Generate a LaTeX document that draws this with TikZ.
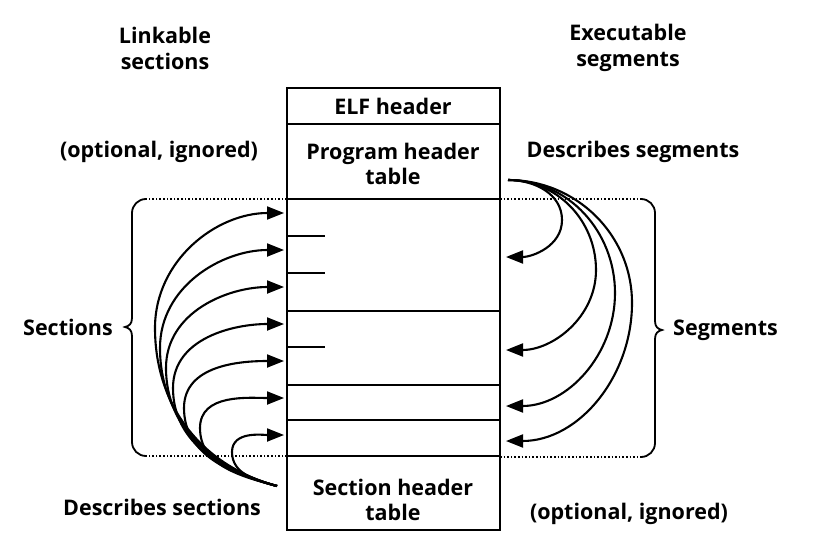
\documentclass[tikz,border=0pt]{standalone}
\usepackage{fontspec}
\setmainfont{Open Sans}
\usetikzlibrary{arrows.meta}
\begin{document}
\begin{tikzpicture}[x=1pt,y=1pt,
  lbl/.style={font=\bfseries\fontsize{21.5}{25}\selectfont,align=center,inner sep=0pt},
  boxline/.style={line width=1.9pt},
  arr/.style={line width=2.1pt,-{Triangle[length=17pt,width=13pt]}},
  dots/.style={line width=1.6pt,dotted},
  brace/.style={line width=1.8pt}]
\useasboundingbox (0,0) rectangle (818,558);
% file box
\draw[boxline] (287,28) rectangle (500,470);
\foreach \yy in {434,359,247,173,138,102} \draw[boxline] (287,\yy) -- (500,\yy);
\foreach \yy in {322,285,211} \draw[boxline] (287,\yy) -- (325,\yy);
% texts
\node[lbl] (elf) at (393,452) {ELF header};
\node[lbl] (pht) at (393,394) {Program header\\table};
\node[lbl] (sht) at (393,58) {Section header\\table};
\node[lbl] (link) at (165,510) {Linkable\\[1pt]sections};
\node[lbl] (exec) at (628,510) {Executable\\[1pt]segments};
\node[lbl] (optl) at (159,406) {(optional, ignored)};
\node[lbl] (dseg) at (633,406) {Describes segments};
\node[lbl,anchor=east] (secs) at (113,231) {Sections};
\node[lbl,anchor=west] (segs) at (673,228) {Segments};
\node[lbl] (dsec) at (162,51) {Describes sections};
\node[lbl] (optr) at (629,44) {(optional, ignored)};
% braces
\draw[dots] (287,359) -- (146,359);
\draw[dots] (287,102) -- (146,102);
\draw[brace] (146,359) arc[start angle=90,end angle=180,radius=14pt] -- (132,240)
  .. controls (132,234) and (129,232) .. (125,231)
  .. controls (129,230) and (132,228) .. (132,222)
  -- (132,116) arc[start angle=180,end angle=270,radius=14pt];
\draw[dots] (500,359) -- (641,359);
\draw[dots] (500,101) -- (641,101);
\draw[brace] (641,359) arc[start angle=90,end angle=0,radius=14pt] -- (655,237)
  .. controls (655,231) and (658,229) .. (662,228)
  .. controls (658,227) and (655,225) .. (655,219)
  -- (655,115) arc[start angle=0,end angle=-90,radius=14pt];
% left arrows
\coordinate (ls) at (277,72);
\foreach \ty/\xm/\ym in {345/155/230, 308/160/210, 271/166/190, 234/173/170, 197/184/150, 160/200/130, 123/232/106}{
  \draw[arr] (ls) to[out=165,in=-90] (\xm,\ym) to[out=90,in=180] (284,\ty);
}
% right arrows
\coordinate (rs) at (508,378);
\foreach \ty/\xm/\ym in {301/562/338, 208/596/288, 152/615/265, 117/632/255}{
  \draw[arr] (rs) to[out=0,in=90] (\xm,\ym) to[out=-90,in=0] (506,\ty);
}
\end{tikzpicture}
\end{document}
